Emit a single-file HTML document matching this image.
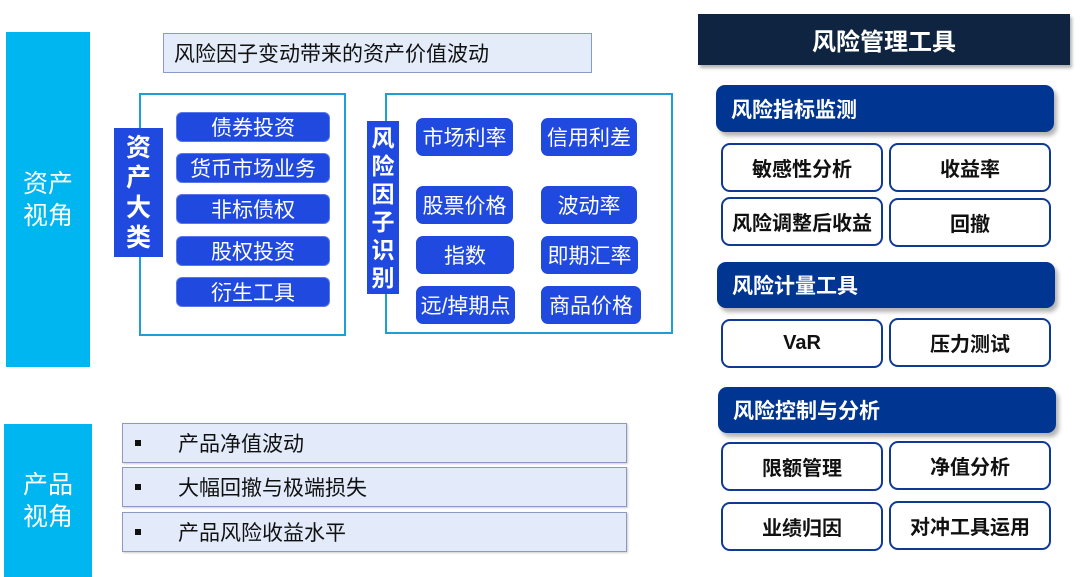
<!DOCTYPE html>
<html><head><meta charset="utf-8"><style>
body{margin:0;width:1080px;height:577px;background:#fff;position:relative;overflow:hidden;font-family:"Liberation Sans","Noto Sans CJK SC",sans-serif}
.a{position:absolute;display:flex;align-items:center;justify-content:center;box-sizing:border-box}
.bar{background:#00b6f0;color:#fff;font-size:25px;line-height:32px;text-align:center}
.it{background:#2049df;color:#fff;font-size:21px;border-radius:6px;border:1px solid #5b78ea}
.ch{background:#2049df;color:#fff;font-size:21px;border-radius:7px}
.v{background:#2049df;color:#fff;font-size:23px;line-height:28px;text-align:center;flex-direction:column}
.hd{background:#003591;color:#fff;font-size:21px;font-weight:bold;border-radius:9px;justify-content:flex-start;padding-left:15px;box-shadow:3px 4px 4px rgba(0,0,0,.3)}
.wb{background:#fff;border:2px solid #0f3a94;border-radius:9px;font-size:20px;font-weight:bold;color:#111}
.pr{background:#e3ebfb;border:1.5px solid #8c99c5;justify-content:flex-start;font-size:21px;color:#111;box-shadow:1px 1px 2px rgba(0,0,0,.2)}
.pr b{display:inline-block;width:6px;height:6px;background:#111;margin:0 37px 0 12px}
</style></head><body>
<div class="a bar" style="left:6px;top:32px;width:84px;height:335px">资产<br>视角</div>
<div class="a bar" style="left:4px;top:424px;width:88px;height:153px">产品<br>视角</div>
<div class="a" style="left:163px;top:33px;width:429px;height:40px;background:#e4ecfa;border:1.5px solid #8a9acb;justify-content:flex-start;padding-left:10px;font-size:21px;color:#111">风险因子变动带来的资产价值波动</div>

<div class="a" style="left:139px;top:93px;width:207px;height:243px;border:2px solid #1e9ed6"></div>
<div class="a v" style="left:114px;top:128px;width:49px;height:129px;font-size:25px;line-height:30px;font-weight:bold">资<br>产<br>大<br>类</div>
<div class="a it" style="left:176px;top:112px;width:154px;height:30px">债券投资</div>
<div class="a it" style="left:176px;top:153px;width:154px;height:30px">货币市场业务</div>
<div class="a it" style="left:176px;top:194px;width:154px;height:30px">非标债权</div>
<div class="a it" style="left:176px;top:236px;width:154px;height:30px">股权投资</div>
<div class="a it" style="left:176px;top:277px;width:154px;height:30px">衍生工具</div>

<div class="a" style="left:385px;top:93px;width:288px;height:241px;border:2px solid #1e9ed6"></div>
<div class="a v" style="left:367px;top:121px;width:32px;height:173px;font-weight:bold">风<br>险<br>因<br>子<br>识<br>别</div>
<div class="a ch" style="left:416px;top:118px;width:97px;height:38px">市场利率</div>
<div class="a ch" style="left:541px;top:118px;width:96px;height:38px">信用利差</div>
<div class="a ch" style="left:416px;top:186px;width:97px;height:38px">股票价格</div>
<div class="a ch" style="left:541px;top:186px;width:96px;height:38px">波动率</div>
<div class="a ch" style="left:416px;top:236px;width:98px;height:38px">指数</div>
<div class="a ch" style="left:541px;top:236px;width:97px;height:38px">即期汇率</div>
<div class="a ch" style="left:416px;top:286px;width:99px;height:38px">远/掉期点</div>
<div class="a ch" style="left:541px;top:286px;width:100px;height:38px">商品价格</div>

<div class="a pr" style="left:122px;top:423px;width:505px;height:40px"><b></b>产品净值波动</div>
<div class="a pr" style="left:122px;top:467px;width:505px;height:40px"><b></b>大幅回撤与极端损失</div>
<div class="a pr" style="left:122px;top:512px;width:505px;height:40px"><b></b>产品风险收益水平</div>

<div class="a" style="left:698px;top:14px;width:372px;height:51px;background:#0f2440;color:#fff;font-size:24px;font-weight:bold;box-shadow:2px 3px 3px rgba(0,0,0,.3)">风险管理工具</div>
<div class="a hd" style="left:716px;top:85px;width:338px;height:47px">风险指标监测</div>
<div class="a wb" style="left:721px;top:143px;width:162px;height:49px">敏感性分析</div>
<div class="a wb" style="left:889px;top:143px;width:162px;height:49px">收益率</div>
<div class="a wb" style="left:721px;top:197px;width:162px;height:49px">风险调整后收益</div>
<div class="a wb" style="left:889px;top:198px;width:162px;height:49px">回撤</div>
<div class="a hd" style="left:717px;top:262px;width:338px;height:46px">风险计量工具</div>
<div class="a wb" style="left:721px;top:319px;width:162px;height:49px">VaR</div>
<div class="a wb" style="left:889px;top:318px;width:162px;height:49px">压力测试</div>
<div class="a hd" style="left:718px;top:387px;width:338px;height:46px">风险控制与分析</div>
<div class="a wb" style="left:721px;top:442px;width:162px;height:49px">限额管理</div>
<div class="a wb" style="left:889px;top:441px;width:162px;height:49px">净值分析</div>
<div class="a wb" style="left:721px;top:502px;width:162px;height:49px">业绩归因</div>
<div class="a wb" style="left:889px;top:501px;width:162px;height:49px">对冲工具运用</div>
</body></html>
